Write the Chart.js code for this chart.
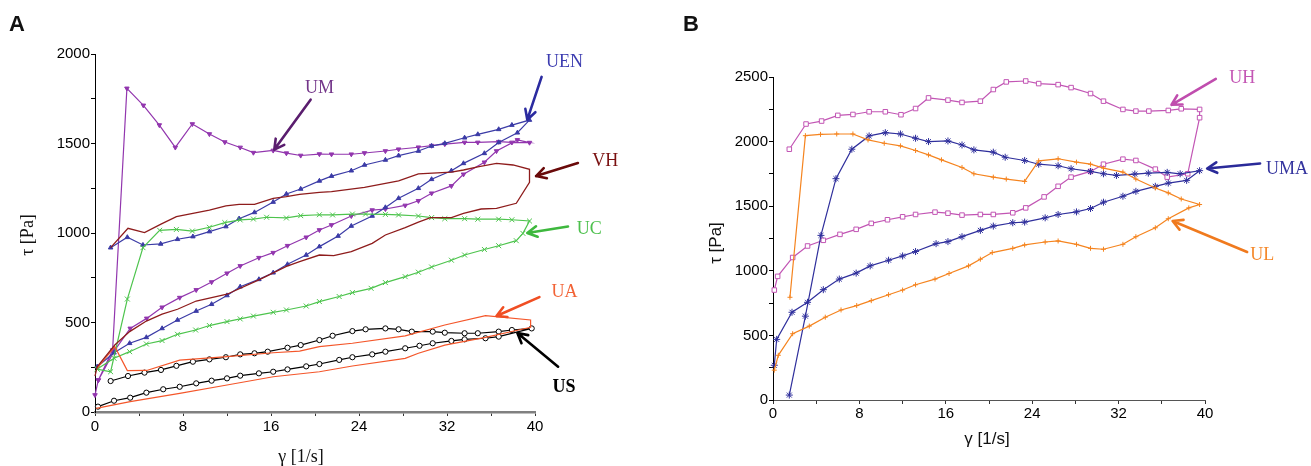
<!DOCTYPE html>
<html>
<head>
<meta charset="utf-8">
<script src="https://cdn.jsdelivr.net/npm/chart.js@4.4.0/dist/chart.umd.min.js"></script>
<style>
  html, body { margin: 0; padding: 0; background: #fff; }
  body { width: 1311px; height: 466px; position: relative; overflow: hidden; }
  .panel { position: absolute; top: 0; height: 466px; }
  #wrap-a { left: 0; width: 640px; }
  #wrap-b { left: 655px; width: 656px; }
</style>
</head>
<body>
<div class="panel" id="wrap-a"><canvas id="chart-a"></canvas></div>
<div class="panel" id="wrap-b"><canvas id="chart-b"></canvas></div>
<script>
// ── Data: panel A (shear rate γ [1/s], shear stress τ [Pa]) ────────
const umX = [0, 0.3, 1.6, 2.9, 4.4, 5.85, 7.3, 8.85, 10.4, 11.8, 13.2, 14.4, 16.2, 17.4, 18.7, 20.4, 21.5, 23.3, 24.5, 26.4, 27.6, 29.4, 30.6, 31.8, 33.6, 34.8, 36.7, 37.9, 39.5,
             38.4, 36.5, 35.4, 33.5, 32.4, 30.6, 29.4, 28.2, 26.4, 25.2, 23.3, 21.5, 20.4, 19.2, 17.5, 16.2, 14.9, 13.2, 12, 10.6, 9.2, 7.7, 6.1, 4.7, 3.2, 1.8, 0.3];
const umY = [95, 178, 346, 1808, 1713, 1603, 1478, 1609, 1553, 1508, 1478, 1449, 1461, 1446, 1433, 1441, 1440, 1440, 1447, 1458, 1468, 1479, 1488, 1497, 1506, 1506, 1510, 1506, 1505,
             1520, 1458, 1395, 1328, 1263, 1222, 1180, 1154, 1134, 1128, 1095, 1045, 1017, 976, 929, 890, 862, 816, 775, 726, 682, 639, 585, 523, 467, 346, 178];

const uenX = [1.42, 2.94, 4.36, 5.97, 7.5, 8.9, 10.4, 11.9, 13.1, 14.5, 16.2, 17.4, 18.7, 20.4, 21.5, 23.3, 24.5, 26.4, 27.6, 29.4, 30.6, 31.8, 33.6, 34.8, 36.7, 37.9, 39.5,
              38.4, 36.7, 35.4, 33.5, 32.4, 30.6, 29.4, 27.6, 26.4, 25.2, 23.3, 22.1, 20.4, 19.2, 17.5, 16.2, 14.9, 13.2, 12, 10.6, 9.2, 7.5, 6.1, 4.67, 3.15, 1.73, 0.2];
const uenY = [918, 976, 933, 939, 965, 980, 1008, 1036, 1080, 1115, 1173, 1218, 1246, 1291, 1318, 1348, 1380, 1408, 1432, 1458, 1486, 1501, 1532, 1551, 1579, 1603, 1631,
              1560, 1506, 1445, 1389, 1348, 1300, 1250, 1194, 1143, 1095, 1039, 983, 924, 877, 825, 778, 741, 700, 651, 602, 564, 514, 467, 417, 384, 331, 253];

const vhX = [1.42, 3, 4.5, 6, 7.4, 8.9, 10.4, 11.9, 13.1, 14.5, 16.2, 17.4, 18.6, 20.4, 21.5, 24.5, 27.6, 29.4, 32.4, 33.5, 34.8, 36.5, 38, 39.5,
             39.5, 38.3, 36.5, 35.1, 33.5, 32.4, 30.5, 29.4, 28.2, 26.4, 25.2, 23.3, 21.7, 20.4, 18.6, 17.4, 15, 12, 9.2, 7.5, 6.1, 4.67, 3.15, 1.8, 0.2, 0];
const vhY = [918, 1026, 1002, 1050, 1091, 1110, 1128, 1151, 1160, 1160, 1193, 1203, 1216, 1227, 1231, 1255, 1291, 1330, 1340, 1352, 1370, 1389, 1380, 1356,
             1283, 1166, 1138, 1134, 1110, 1086, 1086, 1061, 1030, 989, 942, 896, 874, 877, 840, 813, 741, 658, 620, 574, 547, 508, 449, 374, 253, 200];

const ucX = [0.2, 1.42, 2.94, 4.36, 5.88, 7.4, 8.85, 10.4, 11.8, 13.2, 14.4, 15.6, 17.4, 18.7, 20.4, 21.6, 23.4, 24.6, 26.4, 27.6, 29.4, 30.6, 31.8, 33.6, 34.8, 36.7, 37.9, 39.5,
             38.9, 38.3, 36.7, 35.4, 33.6, 32.4, 30.6, 29.4, 28.2, 26.4, 25.1, 23.4, 22.2, 20.4, 19.2, 17.4, 16.2, 14.4, 13.2, 12, 10.4, 9.15, 7.5, 6.1, 4.67, 3.15, 1.73, 0.2];
const ucY = [240, 225, 631, 918, 1015, 1020, 1011, 1032, 1058, 1073, 1078, 1088, 1084, 1097, 1102, 1101, 1106, 1106, 1104, 1101, 1095, 1086, 1080, 1080, 1077, 1077, 1074, 1067,
             998, 957, 929, 908, 877, 848, 810, 781, 756, 723, 691, 667, 645, 617, 592, 570, 557, 536, 520, 505, 483, 458, 434, 399, 380, 337, 300, 240];

const uaX = [0.2, 1.8, 2.94, 4.7, 7.7, 12, 16.2, 18.6, 20.4, 23.4, 28.2, 31.8, 35.5, 39.6,
             39.6, 38.5, 35.5, 31.8, 29.4, 28.2, 23.4, 20.4, 16.2, 12, 7.7, 3.2, 0.1];
const uaY = [245, 365, 231, 232, 290, 309, 331, 340, 365, 384, 425, 486, 538, 514,
             473, 458, 417, 374, 328, 300, 257, 225, 197, 151, 104, 58, 20];

const usX = [1.42, 3, 4.5, 6, 7.4, 8.9, 10.4, 11.9, 13.2, 14.5, 15.7, 17.5, 18.7, 20.4, 21.6, 23.4, 24.6, 26.4, 27.6, 28.8, 30.7, 31.8, 33.6, 34.8, 36.7, 37.9, 39.7,
             36.7, 35.5, 33.6, 32.4, 30.7, 29.5, 28.2, 26.4, 25.2, 23.4, 22.2, 20.4, 19.2, 17.5, 16.2, 14.9, 13.2, 12, 10.6, 9.2, 7.7, 6.2, 4.67, 3.2, 1.73, 0.27];
const usY = [173, 201, 220, 235, 258, 281, 294, 306, 322, 328, 337, 359, 374, 402, 426, 452, 462, 467, 462, 449, 449, 443, 440, 440, 449, 458, 467,
             421, 412, 406, 397, 384, 370, 356, 337, 322, 306, 291, 268, 255, 238, 225, 216, 203, 188, 175, 160, 141, 127, 108, 80, 63, 30];

// ── Data: panel B ─────────────────────────────────────────
const uhX = [1.51, 3.06, 4.5, 6, 7.4, 8.9, 10.4, 11.85, 13.2, 14.4, 16.2, 17.5, 19.2, 20.4, 21.6, 23.4, 24.6, 26.4, 27.6, 29.4, 30.6, 32.4, 33.6, 34.8, 36.6, 37.8, 39.5,
             39.5, 38.4, 36.5, 35.4, 33.6, 32.4, 30.6, 29.4, 27.6, 26.4, 25.1, 23.4, 22.2, 20.4, 19.2, 17.5, 16.2, 15, 13.2, 12, 10.6, 9.1, 7.7, 6.2, 4.66, 3.2, 1.82, 0.43, 0.12];
const uhY = [1941, 2136, 2159, 2203, 2210, 2231, 2231, 2208, 2256, 2338, 2321, 2303, 2313, 2403, 2462, 2469, 2449, 2441, 2418, 2372, 2313, 2249, 2236, 2236, 2241, 2254, 2249,
             2185, 1751, 1725, 1787, 1854, 1864, 1825, 1769, 1725, 1654, 1572, 1487, 1449, 1436, 1436, 1431, 1446, 1454, 1436, 1418, 1395, 1367, 1321, 1282, 1236, 1192, 1103, 957, 851];

const umaX = [1.51, 3, 4.44, 5.83, 7.3, 8.9, 10.4, 11.8, 13.2, 14.4, 16.2, 17.5, 18.6, 20.4, 21.5, 23.3, 24.6, 26.4, 27.6, 29.4, 30.6, 31.8, 33.5, 34.75, 36.5, 37.7, 39.5,
              38.3, 36.6, 35.4, 33.6, 32.4, 30.6, 29.4, 28.1, 26.4, 25.2, 23.3, 22.2, 20.4, 19.2, 17.5, 16.2, 15.1, 13.2, 12, 10.7, 9, 7.7, 6.14, 4.66, 3.2, 1.76, 0.34, 0.12];
const umaY = [38, 649, 1274, 1713, 1941, 2044, 2069, 2059, 2026, 2000, 2005, 1974, 1936, 1918, 1879, 1854, 1825, 1813, 1790, 1769, 1751, 1738, 1749, 1756, 1762, 1751, 1775,
              1700, 1679, 1654, 1615, 1577, 1531, 1482, 1456, 1436, 1410, 1377, 1372, 1346, 1313, 1264, 1226, 1210, 1149, 1115, 1082, 1038, 982, 936, 854, 756, 679, 469, 269];

const ulX = [1.57, 3, 4.4, 5.9, 7.4, 8.8, 10.3, 11.8, 13.2, 14.4, 15.6, 17.5, 18.6, 20.4, 21.6, 23.3, 24.6, 26.4, 28.1, 29.4, 30.6, 32.4, 33.6, 35.4, 36.6, 37.8, 39.5,
             38.5, 36.6, 35.4, 33.6, 32.4, 30.6, 29.4, 28.1, 26.4, 25.2, 23.3, 22.2, 20.3, 19.2, 18.1, 16.3, 15, 13.2, 12, 10.7, 9.1, 7.75, 6.3, 4.84, 3.36, 1.82, 0.49, 0.12];
const ulY = [795, 2046, 2056, 2059, 2059, 2013, 1987, 1967, 1931, 1897, 1859, 1800, 1751, 1725, 1710, 1692, 1851, 1867, 1841, 1825, 1795, 1764, 1710, 1641, 1603, 1556, 1513,
             1487, 1403, 1333, 1264, 1205, 1167, 1174, 1205, 1231, 1223, 1200, 1174, 1141, 1090, 1038, 979, 936, 892, 851, 815, 769, 731, 697, 641, 572, 513, 346, 231];

// ── Tick labels ───────────────────────────────────────────
const xTicks  = [0, 8, 16, 24, 32, 40];
const yTicksA = [0, 500, 1000, 1500, 2000];
const yTicksB = [0, 500, 1000, 1500, 2000, 2500];

// ── Annotations (label anchor / arrow tail & tip in data units) ──
const notesA = [
  { text: 'UM',  at: [19.1, 1782], from: [19.6, 1745], to: [16.3, 1466], label: '#74368a', arrow: '#5a1d6e' },
  { text: 'UEN', at: [41.0, 1927], from: [40.6, 1872], to: [39.3, 1633], label: '#3c3cb0', arrow: '#2b2ba0' },
  { text: 'VH',  at: [45.2, 1374], from: [43.9, 1391], to: [40.1, 1318], label: '#7a1010', arrow: '#6a0a0a' },
  { text: 'UC',  at: [43.8, 994],  from: [43.0, 1036], to: [39.3, 1000], label: '#4cc04c', arrow: '#3eb83e' },
  { text: 'UA',  at: [41.5, 642],  from: [40.4, 642],  to: [36.5, 536],  label: '#f26336', arrow: '#f04e23' },
  { text: 'US',  at: [41.6, 112],  from: [42.1, 253],  to: [38.4, 441],  label: '#000000', arrow: '#000000', bold: true }
];
const notesB = [
  { text: 'UH',  at: [42.25, 2450], from: [41.0, 2485], to: [36.9, 2285], label: '#c457b5', arrow: '#c04dae' },
  { text: 'UMA', at: [45.65, 1746], from: [45.1, 1831], to: [40.2, 1792], label: '#33339e', arrow: '#2a2a99' },
  { text: 'UL',  at: [44.2, 1085],  from: [43.9, 1146], to: [37.0, 1385], label: '#f5882a', arrow: '#f07a1e' }
];

const pts = (xs, ys) => xs.map((x, i) => ({ x, y: ys[i] }));
const tickFont = { family: '"Liberation Sans", Arial, sans-serif', size: 15 };

function series(xs, ys, color, style) {
  return Object.assign({
    data: pts(xs, ys),
    showLine: true,
    borderColor: color,
    backgroundColor: color,
    borderWidth: 1.2,
    pointBorderWidth: 1,
    pointRadius: 0,
    tension: 0,
    clip: false
  }, style);
}

function xScale(height, borderColor, borderWidth, pad) {
  return {
    type: 'linear', min: 0, max: 40,
    afterFit: s => { s.height = height; },
    afterBuildTicks: s => { s.ticks = [0, 4, 8, 12, 16, 20, 24, 28, 32, 36, 40].map(v => ({ value: v })); },
    ticks: { autoSkip: false, maxRotation: 0, padding: pad, color: '#000', font: tickFont,
             callback: v => xTicks.includes(v) ? String(v) : '' },
    grid: { drawOnChartArea: false, drawTicks: true, tickLength: 4, color: '#333' },
    border: { color: borderColor, width: borderWidth }
  };
}

function yScale(width, max, labels) {
  return {
    type: 'linear', min: 0, max: max,
    afterFit: s => { s.width = width; },
    afterBuildTicks: s => {
      const t = [];
      for (let v = 0; v <= max; v += 250) t.push({ value: v });
      s.ticks = t;
    },
    ticks: { autoSkip: false, padding: 1, color: '#000', font: tickFont,
             callback: v => labels.includes(v) ? String(v) : '' },
    grid: { drawOnChartArea: false, drawTicks: true, tickLength: 4, color: '#000' },
    border: { color: '#000', width: 1 }
  };
}

// ── Overlay plugin: arrows, annotation labels, axis titles ──
function overlay(notes, texts) {
  return {
    id: 'overlay',
    afterDraw(chart) {
      const { ctx, scales: { x, y } } = chart;
      ctx.save();
      notes.forEach(n => {
        const x0 = x.getPixelForValue(n.from[0]), y0 = y.getPixelForValue(n.from[1]);
        const x1 = x.getPixelForValue(n.to[0]),   y1 = y.getPixelForValue(n.to[1]);
        const ang = Math.atan2(y1 - y0, x1 - x0);
        const L = 11;
        ctx.strokeStyle = n.arrow;
        ctx.lineWidth = 2.6;
        ctx.lineCap = 'round';
        ctx.lineJoin = 'round';
        ctx.beginPath();
        ctx.moveTo(x0, y0);
        ctx.lineTo(x1, y1);
        ctx.moveTo(x1 - L * Math.cos(ang - 0.5), y1 - L * Math.sin(ang - 0.5));
        ctx.lineTo(x1, y1);
        ctx.lineTo(x1 - L * Math.cos(ang + 0.5), y1 - L * Math.sin(ang + 0.5));
        ctx.stroke();

        ctx.fillStyle = n.label;
        ctx.font = (n.bold ? 'bold ' : '') + '18px "Liberation Serif", "Times New Roman", serif';
        ctx.textAlign = 'left';
        ctx.textBaseline = 'alphabetic';
        ctx.fillText(n.text, x.getPixelForValue(n.at[0]), y.getPixelForValue(n.at[1]));
      });
      texts.forEach(t => {
        ctx.save();
        ctx.translate(t.x, t.y);
        if (t.rotate) ctx.rotate(-Math.PI / 2);
        ctx.fillStyle = '#111';
        ctx.font = t.font;
        ctx.textAlign = t.align || 'center';
        ctx.textBaseline = t.baseline || 'alphabetic';
        ctx.fillText(t.text, 0, 0);
        ctx.restore();
      });
      ctx.restore();
    }
  };
}

const serif18 = '18px "Liberation Serif", "Times New Roman", serif';
const sans17  = '17px "Liberation Sans", Arial, sans-serif';
const bold22  = 'bold 22px "Liberation Sans", Arial, sans-serif';

const baseOptions = {
  responsive: true,
  maintainAspectRatio: false,
  animation: false,
  plugins: { legend: { display: false }, tooltip: { enabled: false } }
};

// ── Panel A ───────────────────────────────────────────────
new Chart(document.getElementById('chart-a'), {
  type: 'scatter',
  data: {
    datasets: [
      series(vhX, vhY, '#8e1c1c', { borderWidth: 1.3 }),
      series(uaX, uaY, '#f4562a', {}),
      series(ucX, ucY, '#4dc44d', { pointStyle: 'crossRot', pointRadius: 3.5 }),
      series(uenX, uenY, '#3b3ba6', { pointStyle: 'triangle', pointRadius: 2.6 }),
      series(umX, umY, '#9236ae', { pointStyle: 'triangle', pointRotation: 180, pointRadius: 2.6 }),
      series(usX, usY, '#000000', { pointStyle: 'circle', pointRadius: 2.6, backgroundColor: '#fff' })
    ]
  },
  options: Object.assign({}, baseOptions, {
    layout: { padding: { left: 0, right: 105, top: 54, bottom: 0 } },
    scales: {
      x: xScale(54, '#808080', 2.5, 2),
      y: yScale(95, 2000, yTicksA)
    }
  }),
  plugins: [overlay(notesA, [
    { text: 'τ [Pa]', x: 28, y: 235, rotate: true, font: serif18, baseline: 'middle' },
    { text: 'γ [1/s]', x: 301, y: 462, font: serif18 },
    { text: 'A', x: 9, y: 31, align: 'left', font: bold22 }
  ])]
});

// ── Panel B ───────────────────────────────────────────────
new Chart(document.getElementById('chart-b'), {
  type: 'scatter',
  data: {
    datasets: [
      series(ulX, ulY, '#f5841f', { pointStyle: 'cross', pointRadius: 2.5 }),
      series(umaX, umaY, '#2f2f9c', { pointStyle: 'star', pointRadius: 3.5 }),
      series(uhX, uhY, '#c255b4', { pointStyle: 'rect', pointRadius: 3.2, backgroundColor: '#fff' })
    ]
  },
  options: Object.assign({}, baseOptions, {
    layout: { padding: { left: 0, right: 106, top: 77, bottom: 0 } },
    scales: {
      x: xScale(66, '#555', 1, 1),
      y: yScale(118, 2500, yTicksB)
    }
  }),
  plugins: [overlay(notesB, [
    { text: 'τ [Pa]', x: 61, y: 243, rotate: true, font: sans17, baseline: 'middle' },
    { text: 'γ [1/s]', x: 332, y: 444, font: sans17 },
    { text: 'B', x: 28, y: 31, align: 'left', font: bold22 }
  ])]
});
</script>
</body>
</html>
